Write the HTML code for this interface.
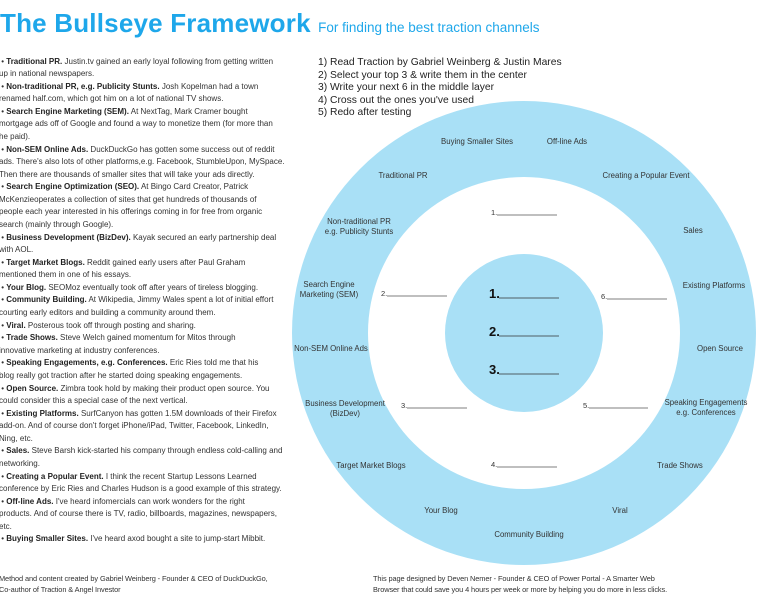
<!DOCTYPE html>
<html><head><meta charset="utf-8"><style>
body{margin:0;width:759px;height:600px;overflow:hidden;background:#fff;position:relative;font-family:"Liberation Sans",sans-serif;color:#333}
.t{position:absolute;left:0;top:8px;font-size:26px;font-weight:bold;color:#1ea7ea;white-space:nowrap;letter-spacing:0.2px}
.t span{font-size:13.5px;font-weight:normal;letter-spacing:0}
.l{position:absolute;left:-1px;top:55.5px;font-size:8px;line-height:12.58px;letter-spacing:0px;white-space:nowrap;color:#333}
.l b{color:#222}
.s{position:absolute;left:318px;top:57px;font-size:10.3px;line-height:12.5px;color:#222;white-space:nowrap}
.f{position:absolute;font-size:7.4px;line-height:10.5px;color:#333;white-space:nowrap;letter-spacing:-0.1px}
svg{position:absolute;left:0;top:0}
</style></head><body>
<svg width="759" height="600" font-family="Liberation Sans, sans-serif">
<circle cx="524" cy="333" r="232" fill="#a9e0f6"/>
<circle cx="524" cy="333" r="156" fill="#fff"/>
<circle cx="524" cy="333" r="79" fill="#a9e0f6"/>
<g font-size="7.8" fill="#333" text-anchor="middle">
<text x="477" y="144">Buying Smaller Sites</text>
<text x="567" y="144">Off-line Ads</text>
<text x="403" y="178">Traditional PR</text>
<text x="646" y="178">Creating a Popular Event</text>
<text x="359" y="224">Non-traditional PR</text>
<text x="359" y="234">e.g. Publicity Stunts</text>
<text x="693" y="233">Sales</text>
<text x="329" y="287">Search Engine</text>
<text x="329" y="297">Marketing (SEM)</text>
<text x="714" y="288">Existing Platforms</text>
<text x="331" y="351">Non-SEM Online Ads</text>
<text x="720" y="351">Open Source</text>
<text x="345" y="406">Business Development</text>
<text x="345" y="416">(BizDev)</text>
<text x="706" y="405">Speaking Engagements</text>
<text x="706" y="415">e.g. Conferences</text>
<text x="371" y="468">Target Market Blogs</text>
<text x="680" y="468">Trade Shows</text>
<text x="441" y="513">Your Blog</text>
<text x="620" y="513">Viral</text>
<text x="529" y="537">Community Building</text>
</g>
<g font-size="7.5" fill="#333">
<text x="491" y="215">1.</text><line x1="497" y1="215" x2="557" y2="215" stroke="#555" stroke-width="0.7"/>
<text x="381" y="296">2.</text><line x1="387" y1="296" x2="447" y2="296" stroke="#555" stroke-width="0.7"/>
<text x="601" y="299">6.</text><line x1="607" y1="299" x2="667" y2="299" stroke="#555" stroke-width="0.7"/>
<text x="401" y="408">3.</text><line x1="407" y1="408" x2="467" y2="408" stroke="#555" stroke-width="0.7"/>
<text x="583" y="408">5.</text><line x1="589" y1="408" x2="648" y2="408" stroke="#555" stroke-width="0.7"/>
<text x="491" y="467">4.</text><line x1="497" y1="467" x2="557" y2="467" stroke="#555" stroke-width="0.7"/>
</g>
<g font-size="13" font-weight="bold" fill="#111">
<text x="489" y="298">1.</text><line x1="499" y1="298" x2="559" y2="298" stroke="#333" stroke-width="0.8"/>
<text x="489" y="336">2.</text><line x1="499" y1="336" x2="559" y2="336" stroke="#333" stroke-width="0.8"/>
<text x="489" y="374">3.</text><line x1="499" y1="374" x2="559" y2="374" stroke="#333" stroke-width="0.8"/>
</g>
</svg>
<div class="t">The Bullseye Framework <span>For finding the best traction channels</span></div>
<div class="s">1) Read Traction by Gabriel Weinberg &amp; Justin Mares<br>2) Select your top 3 &amp; write them in the center<br>3) Write your next 6 in the middle layer<br>4) Cross out the ones you've used<br>5) Redo after testing</div>
<div class="l">
&nbsp;• <b>Traditional PR.</b> Justin.tv gained an early loyal following from getting written<br>
up in national newspapers.<br>
&nbsp;• <b>Non-traditional PR, e.g. Publicity Stunts.</b> Josh Kopelman had a town<br>
renamed half.com, which got him on a lot of national TV shows.<br>
&nbsp;• <b>Search Engine Marketing (SEM).</b> At NextTag, Mark Cramer bought<br>
mortgage ads off of Google and found a way to monetize them (for more than<br>
he paid).<br>
&nbsp;• <b>Non-SEM Online Ads.</b> DuckDuckGo has gotten some success out of reddit<br>
ads. There's also lots of other platforms,e.g. Facebook, StumbleUpon, MySpace.<br>
Then there are thousands of smaller sites that will take your ads directly.<br>
&nbsp;• <b>Search Engine Optimization (SEO).</b> At Bingo Card Creator, Patrick<br>
McKenzieoperates a collection of sites that get hundreds of thousands of<br>
people each year interested in his offerings coming in for free from organic<br>
search (mainly through Google).<br>
&nbsp;• <b>Business Development (BizDev).</b> Kayak secured an early partnership deal<br>
with AOL.<br>
&nbsp;• <b>Target Market Blogs.</b> Reddit gained early users after Paul Graham<br>
mentioned them in one of his essays.<br>
&nbsp;• <b>Your Blog.</b> SEOMoz eventually took off after years of tireless blogging.<br>
&nbsp;• <b>Community Building.</b> At Wikipedia, Jimmy Wales spent a lot of initial effort<br>
courting early editors and building a community around them.<br>
&nbsp;• <b>Viral.</b> Posterous took off through posting and sharing.<br>
&nbsp;• <b>Trade Shows.</b> Steve Welch gained momentum for Mitos through<br>
innovative marketing at industry conferences.<br>
&nbsp;• <b>Speaking Engagements, e.g. Conferences.</b> Eric Ries told me that his<br>
blog really got traction after he started doing speaking engagements.<br>
&nbsp;• <b>Open Source.</b> Zimbra took hold by making their product open source. You<br>
could consider this a special case of the next vertical.<br>
&nbsp;• <b>Existing Platforms.</b> SurfCanyon has gotten 1.5M downloads of their Firefox<br>
add-on. And of course don't forget iPhone/iPad, Twitter, Facebook, LinkedIn,<br>
Ning, etc.<br>
&nbsp;• <b>Sales.</b> Steve Barsh kick-started his company through endless cold-calling and<br>
networking.<br>
&nbsp;• <b>Creating a Popular Event.</b> I think the recent Startup Lessons Learned<br>
conference by Eric Ries and Charles Hudson is a good example of this strategy.<br>
&nbsp;• <b>Off-line Ads.</b> I've heard infomercials can work wonders for the right<br>
products. And of course there is TV, radio, billboards, magazines, newspapers,<br>
etc.<br>
&nbsp;• <b>Buying Smaller Sites.</b> I've heard axod bought a site to jump-start Mibbit.
</div>
<div class="f" style="left:-1px;top:574px">Method and content created by Gabriel Weinberg - Founder &amp; CEO of DuckDuckGo,<br>Co-author of Traction &amp; Angel Investor</div>
<div class="f" style="left:373px;top:574px">This page designed by Deven Nemer - Founder &amp; CEO of Power Portal - A Smarter Web<br>Browser that could save you 4 hours per week or more by helping you do more in less clicks.</div>
</body></html>
